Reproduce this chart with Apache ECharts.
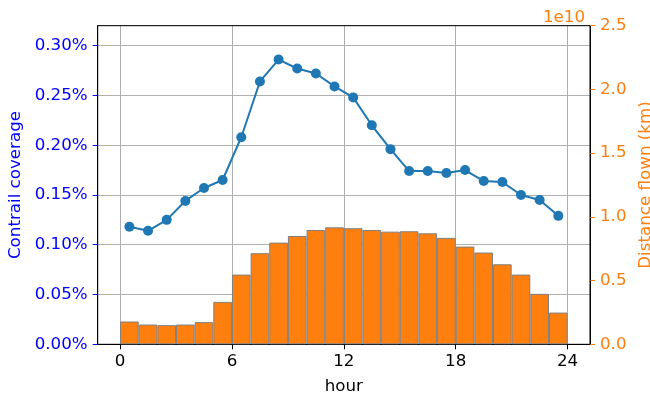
<!DOCTYPE html>
<html>
<head>
  <meta charset="utf-8"/>
  <script src="https://cdn.jsdelivr.net/npm/echarts@6/dist/echarts.min.js"></script>
  <style>
    body { margin: 0; background: #fff; }
  </style>
</head>
<body>
  <div id="chartmain" style="width:650px; height:397px;"></div>

  <script type="text/javascript">
    // hours (bar / point centres sit at hour + 0.5)
    var hours = [0, 1, 2, 3, 4, 5, 6, 7, 8, 9, 10, 11, 12, 13, 14, 15, 16, 17, 18, 19, 20, 21, 22, 23];
    // contrail coverage in percent
    var coverage = [0.118, 0.114, 0.125, 0.144, 0.157, 0.165, 0.208, 0.264, 0.286, 0.277, 0.272, 0.259,
                    0.248, 0.220, 0.196, 0.174, 0.174, 0.172, 0.175, 0.164, 0.163, 0.150, 0.145, 0.129];
    // distance flown in km
    var distance = [1.79e9, 1.55e9, 1.50e9, 1.55e9, 1.74e9, 3.33e9, 5.47e9, 7.15e9, 7.98e9, 8.50e9, 8.97e9, 9.18e9,
                    9.11e9, 8.97e9, 8.84e9, 8.87e9, 8.71e9, 8.35e9, 7.67e9, 7.20e9, 6.28e9, 5.47e9, 3.96e9, 2.49e9];
    var xTicks = [0, 6, 12, 18, 24];

    var lineData = [];
    var barData = [];
    for (var i = 0; i < hours.length; i++) {
      lineData.push([hours[i] + 0.5, coverage[i]]);
      barData.push([hours[i] + 0.5, distance[i]]);
    }

    var fs = 16.7;
    var font = 'DejaVu Sans';
    var orange = '#ff7f0e';

    var option = {
      animation: false,
      backgroundColor: '#fff',
      textStyle: { fontFamily: font },
      title: {
        text: '1e10',
        right: 60,
        top: 4,
        textStyle: { color: orange, fontSize: fs, fontWeight: 'normal', fontFamily: font }
      },
      grid: {
        left: 97.7, right: 60, top: 25.7, bottom: 52.7,
        outerBoundsMode: 'none',
        z: 1,
        show: true, borderColor: '#000', borderWidth: 1
      },
      xAxis: {
        type: 'value',
        min: -1.2,
        max: 25.2,
        name: 'hour',
        nameLocation: 'middle',
        nameGap: 34,
        nameTextStyle: { color: '#000', fontSize: fs, fontFamily: font },
        axisLine: { onZero: false, lineStyle: { color: '#000', width: 1 } },
        axisTick: { customValues: xTicks, length: 5, lineStyle: { color: '#000' } },
        axisLabel: { customValues: xTicks, color: '#000', fontSize: fs, fontFamily: font, margin: 9 },
        splitLine: { show: true, lineStyle: { color: '#b0b0b0', width: 1 } }
      },
      yAxis: [
        {
          type: 'value',
          position: 'left',
          min: 0,
          max: 0.32,
          interval: 0.05,
          name: 'Contrail coverage',
          nameLocation: 'middle',
          nameRotate: 90,
          nameGap: 69,
          nameTextStyle: { color: 'blue', fontSize: fs, fontFamily: font },
          axisLine: { show: true, onZero: false, lineStyle: { color: '#000', width: 1 } },
          axisTick: { show: true, length: 5, lineStyle: { color: 'blue' } },
          axisLabel: {
            color: 'blue', fontSize: fs, fontFamily: font, margin: 10, showMaxLabel: false,
            formatter: function (v) { return v.toFixed(2) + '%'; }
          },
          splitLine: { show: true, lineStyle: { color: '#b0b0b0', width: 1 } }
        },
        {
          type: 'value',
          position: 'right',
          min: 0,
          max: 2.5e10,
          interval: 5e9,
          name: 'Distance flown (km)',
          nameLocation: 'middle',
          nameRotate: 90,
          nameGap: 40,
          nameTextStyle: { color: orange, fontSize: fs, fontFamily: font },
          axisLine: { show: true, onZero: false, lineStyle: { color: '#000', width: 1 } },
          axisTick: { show: true, length: 5, lineStyle: { color: orange } },
          axisLabel: {
            color: orange, fontSize: fs, fontFamily: font, margin: 10,
            formatter: function (v) { return (v / 1e10).toFixed(1); }
          },
          splitLine: { show: false }
        }
      ],
      series: [
        {
          name: 'Distance flown',
          type: 'bar',
          yAxisIndex: 1,
          barWidth: '100%',
          itemStyle: { color: orange, borderColor: '#808080', borderWidth: 1 },
          data: barData,
          z: 2
        },
        {
          name: 'Contrail coverage',
          type: 'line',
          yAxisIndex: 0,
          symbol: 'circle',
          symbolSize: 10,
          lineStyle: { color: '#1f77b4', width: 2 },
          itemStyle: { color: '#1f77b4' },
          data: lineData,
          z: 3
        }
      ]
    };

    var myChart = echarts.init(document.getElementById('chartmain'));
    myChart.setOption(option);
  </script>
</body>
</html>
